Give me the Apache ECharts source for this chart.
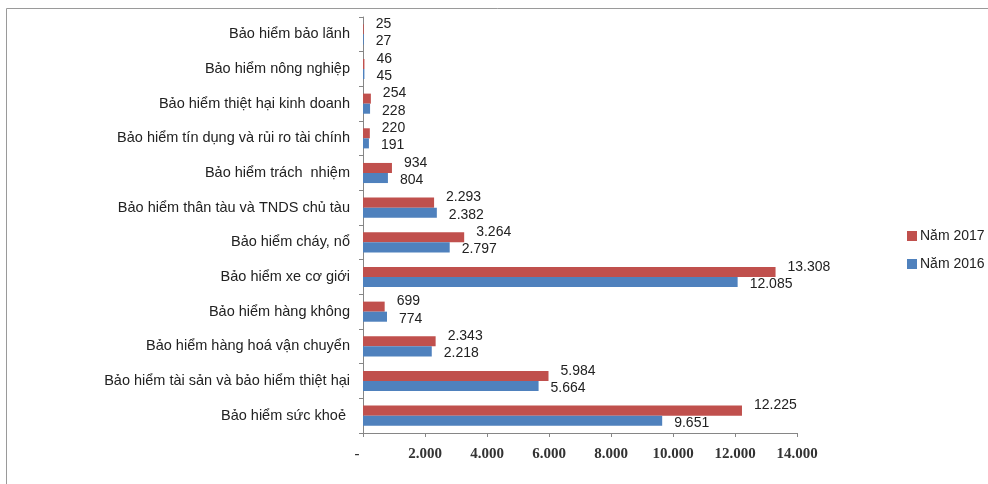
<!DOCTYPE html>
<html>
<head>
<meta charset="utf-8">
<script src="https://cdn.jsdelivr.net/npm/echarts@6/dist/echarts.min.js"></script>
<style>
  html, body { margin: 0; padding: 0; background: #fff; }
  #chart { width: 988px; height: 484px; }
</style>
</head>
<body>
<div id="chart"></div>
<script>
// Insurance lines, listed bottom to top as they appear on the category axis
const categories = [
  'Bảo hiểm sức khoẻ ',
  'Bảo hiểm tài sản và bảo hiểm thiệt hại',
  'Bảo hiểm hàng hoá vận chuyển',
  'Bảo hiểm hàng không',
  'Bảo hiểm xe cơ giới',
  'Bảo hiểm cháy, nổ',
  'Bảo hiểm thân tàu và TNDS chủ tàu',
  'Bảo hiểm trách  nhiệm',
  'Bảo hiểm tín dụng và rủi ro tài chính',
  'Bảo hiểm thiệt hại kinh doanh',
  'Bảo hiểm nông nghiệp',
  'Bảo hiểm bảo lãnh'
];

const values2017 = [12225, 5984, 2343, 699, 13308, 3264, 2293, 934, 220, 254, 46, 25];
const values2016 = [9651, 5664, 2218, 774, 12085, 2797, 2382, 804, 191, 228, 45, 27];

const seriesNames = ['Năm 2017', 'Năm 2016'];

const axisTicks = [0, 2000, 4000, 6000, 8000, 10000, 12000, 14000];

// Vietnamese number style: dot as thousands separator
function fmt(v) {
  return String(Math.round(v)).replace(/\B(?=(\d{3})+(?!\d))/g, '.');
}

const chart = echarts.init(document.getElementById('chart'), null, { renderer: 'canvas' });

const sansFont = 'Liberation Sans, Arial, sans-serif';
const labelFont = { fontFamily: sansFont, fontSize: 14, color: '#222' };

chart.setOption({
  animation: false,
  backgroundColor: '#fff',
  graphic: [
    { type: 'line', shape: { x1: 6.5, y1: 8.5, x2: 988, y2: 8.5 }, style: { stroke: '#9a9a9a', lineWidth: 1 } },
    { type: 'line', shape: { x1: 6.5, y1: 8.5, x2: 6.5, y2: 484 }, style: { stroke: '#9a9a9a', lineWidth: 1 } }
  ],
  grid: { left: 363, right: 191, top: 17, bottom: 51, containLabel: false },
  legend: {
    data: seriesNames,
    orient: 'vertical',
    left: 907,
    top: 229,
    padding: 0,
    icon: 'rect',
    itemWidth: 10,
    itemHeight: 10,
    itemGap: 14,
    textStyle: { fontFamily: sansFont, fontSize: 14, color: '#222', padding: [0, 0, 0, -2] }
  },
  xAxis: {
    type: 'value',
    min: axisTicks[0],
    max: axisTicks[axisTicks.length - 1],
    interval: axisTicks[1] - axisTicks[0],
    splitLine: { show: false },
    axisLine: { show: true, lineStyle: { color: '#868686' } },
    axisTick: { show: true, length: 4, lineStyle: { color: '#868686' } },
    axisLabel: {
      margin: 14,
      fontFamily: 'Liberation Serif, Times New Roman, serif',
      fontWeight: 'bold',
      fontSize: 15,
      color: '#333',
      formatter: v => v === 0 ? '{z|-}' : fmt(v),
      rich: { z: { padding: [0, 12, 0, 0], fontFamily: 'Liberation Serif, serif', fontSize: 15, color: '#333' } }
    }
  },
  yAxis: {
    type: 'category',
    data: categories,
    axisLine: { show: true, lineStyle: { color: '#868686' } },
    axisTick: { show: true, length: 4, lineStyle: { color: '#868686' } },
    axisLabel: { margin: 13, fontFamily: sansFont, fontSize: 14.5, color: '#222' }
  },
  series: [
    {
      name: seriesNames[0],
      type: 'bar',
      data: values2017,
      barGap: '0%',
      barCategoryGap: '42%',
      itemStyle: { color: '#C0504D' },
      label: Object.assign({
        show: true, position: 'right', distance: 12, offset: [0, -5],
        formatter: p => fmt(p.value)
      }, labelFont)
    },
    {
      name: seriesNames[1],
      type: 'bar',
      data: values2016,
      barGap: '0%',
      barCategoryGap: '42%',
      itemStyle: { color: '#4F81BD' },
      label: Object.assign({
        show: true, position: 'right', distance: 12, offset: [0, 2],
        formatter: p => fmt(p.value)
      }, labelFont)
    }
  ]
});
</script>
</body>
</html>
